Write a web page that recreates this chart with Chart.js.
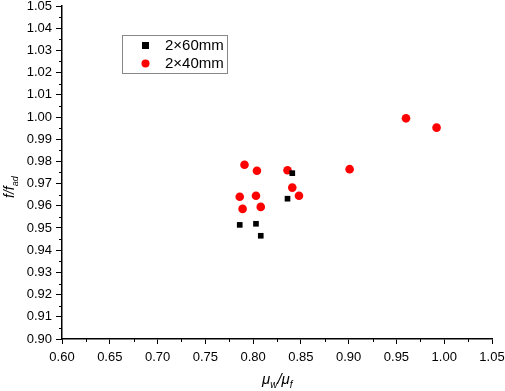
<!DOCTYPE html>
<html>
<head>
<meta charset="utf-8">
<script src="https://cdn.jsdelivr.net/npm/chart.js@4.4.1/dist/chart.umd.min.js"></script>
<style>
html,body{margin:0;padding:0;background:#fff}
</style>
</head>
<body>
<canvas id="c" width="505" height="391"></canvas>
<script>
// data
const mm60X=[0.841,0.836,0.786,0.803,0.808];
const mm60Y=[0.9747,0.9632,0.9514,0.9519,0.9465];
const mm40X=[0.791,0.804,0.836,0.901,0.786,0.803,0.789,0.808,0.841,0.848,0.960,0.992];
const mm40Y=[0.9785,0.9758,0.9760,0.9765,0.9641,0.9645,0.9586,0.9595,0.9682,0.9645,0.9994,0.9952];
const xMin=0.60, xMax=1.05, xStep=0.05;
const yMin=0.90, yMax=1.05, yStep=0.01;
const legendLabels=['2×60mm','2×40mm'];

const pts=(xs,ys)=>xs.map((x,i)=>({x:x,y:ys[i]}));
const FONT='"Liberation Sans", Arial, sans-serif';

const extras={
  id:'extras',
  afterDraw(chart){
    const ctx=chart.ctx, xs=chart.scales.x, ys=chart.scales.y;
    const a=chart.chartArea;
    ctx.save();
    ctx.strokeStyle='#000'; ctx.lineWidth=1;
    // minor ticks
    ctx.beginPath();
    for(let v=xMin+xStep/2; v<xMax; v+=xStep){
      const px=Math.round(xs.getPixelForValue(v))+0.5;
      ctx.moveTo(px,a.bottom); ctx.lineTo(px,a.bottom+3);
    }
    for(let v=yMin+yStep/2; v<yMax; v+=yStep){
      const py=Math.round(ys.getPixelForValue(v))+0.5;
      ctx.moveTo(a.left,py); ctx.lineTo(a.left-3,py);
    }
    ctx.stroke();

    // legend box
    ctx.strokeStyle='#888'; ctx.lineWidth=1;
    ctx.strokeRect(122.5,35.5,105,38);
    ctx.fillStyle='#000';
    ctx.fillRect(142,42,7,7);
    ctx.fillStyle='#ff0000';
    ctx.beginPath(); ctx.arc(145.5,63.5,4,0,Math.PI*2); ctx.fill();
    ctx.fillStyle='#000';
    ctx.font='15px '+FONT; ctx.textBaseline='middle'; ctx.textAlign='left';
    ctx.fillText(legendLabels[0],165,46);
    ctx.fillText(legendLabels[1],165,64);

    // x title
    ctx.textBaseline='alphabetic';
    let x=262, y=384;
    const seg=(t,f,dy)=>{ctx.font=f; ctx.fillText(t,x,y+dy); x+=ctx.measureText(t).width;};
    seg('μ','italic 15px '+FONT,0);
    seg('w','italic 10px '+FONT,4);
    seg('/','italic 15px '+FONT,0);
    seg('μ','italic 15px '+FONT,0);
    seg('f','italic 10px '+FONT,4);

    // y title
    ctx.translate(14,198); ctx.rotate(-Math.PI/2);
    x=0; y=0;
    seg('f/f','italic 14px '+FONT,0);
    seg('ad','italic 9px '+FONT,4);
    ctx.restore();
  }
};

new Chart(document.getElementById('c'),{
  type:'scatter',
  data:{datasets:[
    {label:legendLabels[0],data:pts(mm60X,mm60Y),pointStyle:'rect',pointRadius:4,
     backgroundColor:'#000',borderColor:'#000',borderWidth:0},
    {label:legendLabels[1],data:pts(mm40X,mm40Y),pointStyle:'circle',pointRadius:4.3,
     backgroundColor:'#ff0000',borderColor:'#ff0000',borderWidth:0}
  ]},
  options:{
    responsive:false,animation:false,devicePixelRatio:1,
    layout:{padding:{top:6,right:13,left:0,bottom:0}},
    plugins:{legend:{display:false},tooltip:{enabled:false}},
    scales:{
      x:{type:'linear',min:xMin,max:xMax,
        ticks:{stepSize:xStep,color:'#000',font:{family:FONT,size:13},padding:6,
          maxRotation:0,callback:v=>v.toFixed(2)},
        grid:{drawOnChartArea:false,color:'#000',tickLength:5,tickWidth:1},
        border:{color:'#000',width:1.5},
        afterFit(s){s.height=52;s.paddingLeft=0;s.paddingRight=0;}},
      y:{type:'linear',min:yMin,max:yMax,
        ticks:{stepSize:yStep,color:'#000',font:{family:FONT,size:13},padding:4,
          callback:v=>v.toFixed(2)},
        grid:{drawOnChartArea:false,color:'#000',tickLength:6,tickWidth:1},
        border:{color:'#000',width:1.5},
        afterFit(s){s.width=62;s.paddingTop=0;s.paddingBottom=0;}}
    }
  },
  plugins:[extras]
});
</script>
</body>
</html>
